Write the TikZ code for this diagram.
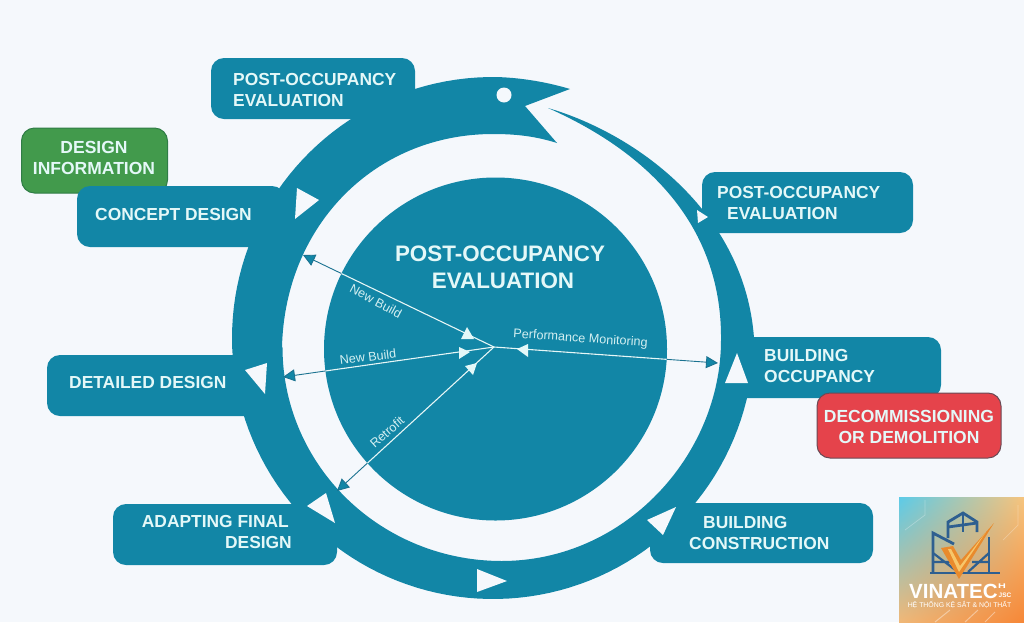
\documentclass[tikz,border=0pt]{standalone}
\usepackage{fontspec}
\usepackage{graphicx}
\setmainfont{Liberation Sans}
\usetikzlibrary{arrows.meta,shadings}
\definecolor{paper}{HTML}{F5F8FC}
\definecolor{ringteal}{HTML}{1286A6}
\definecolor{probeteal}{HTML}{1A7290}
\definecolor{mint}{HTML}{E4F8F8}
\definecolor{leaf}{HTML}{429A4C}
\definecolor{leafedge}{HTML}{2F7D46}
\definecolor{signal}{HTML}{E5434B}
\definecolor{signaledge}{HTML}{6A4A55}
\definecolor{steel}{HTML}{2E5F90}
\definecolor{amber}{HTML}{E98A2C}
\definecolor{honey}{HTML}{F7C66A}
\definecolor{badgeUL}{HTML}{5CCBE8}
\definecolor{badgeUR}{HTML}{F7C47D}
\definecolor{badgeLR}{HTML}{F68737}
\definecolor{badgeLL}{HTML}{F0B878}
\tikzset{
  stage/.style={rectangle,rounded corners=13pt,fill=ringteal,inner sep=0pt},
  stagelabel/.style={inner sep=0pt,text=mint,align=left,font=\bfseries\fontsize{17.4}{21}\selectfont},
  sidebox/.style={rectangle,rounded corners=13pt,inner sep=0pt,line width=1pt},
  sidelabel/.style={inner sep=0pt,text=mint,align=center,font=\bfseries\fontsize{17.5}{21}\selectfont},
  flowmark/.style={fill=paper},
  probe/.style={draw=probeteal,line width=.9pt,-{Triangle[length=12pt,width=12pt,fill=ringteal]}},
  probecore/.style={draw=mint,line width=1.1pt},
  hubmark/.style={fill=mint},
  probelabel/.style={inner sep=0pt,text=mint!92!ringteal,font=\fontsize{12.6}{15}\selectfont},
  logotext/.style={inner sep=0pt,text=white}
}
\begin{document}
\begin{tikzpicture}[x=1pt,y=-1pt]
\fill[paper] (0,0) rectangle (1024,622);
\useasboundingbox (0,0) rectangle (1024,622);

% Side note that sits behind the concept stage
\node[sidebox,fill=leaf,draw=leafedge,minimum width=146pt,minimum height=65pt] (info) at (94.5,160.5) {};
\node[sidelabel] (infoText) at (94,158) {DESIGN\\INFORMATION};

% Stage boxes
\node[stage,minimum width=204pt,minimum height=61pt] (stageA) at (313,88.5) {};
\node[stage,minimum width=208pt,minimum height=61pt] (stageB) at (181,216.5) {};
\node[stage,minimum width=215pt,minimum height=61pt] (stageC) at (154.5,385.5) {};
\node[stage,minimum width=224pt,minimum height=61pt] (stageD) at (225,534.5) {};
\node[stage,minimum width=223pt,minimum height=60pt] (stageE) at (761.5,533) {};
\node[stage,minimum width=211pt,minimum height=61pt] (stageF) at (835.5,367.5) {};
\node[stage,minimum width=211pt,minimum height=61pt] (stageG) at (807.5,202.5) {};

% The snake-shaped cycle: tail, outer edge, head, then inner edge back to the tail
\fill[ringteal] (548,108)
  .. controls (640,135) and (745,215) .. (754,338)
  -- plot[domain=0:271,samples=120] ({493+261*cos(\x)},{338+261*sin(\x)})
  .. controls (525,78) and (550,83) .. (570,89)
  -- (525,106) -- (557,143)
  .. controls (535,136) and (515,134) .. (493,134)
  .. controls (375,134) and (285,225) .. (282,347)
  -- plot[domain=180:90,samples=60] ({501.5+219*cos(\x)},{347.5+213.5*sin(\x)})
  .. controls (625,561) and (721,455) .. (721,340)
  .. controls (722,240) and (665,160) .. (548,108)
  -- cycle;
\fill[paper] (504,95) circle [radius=7.5pt];

% Direction marks along the cycle
\fill[flowmark] (297,188) -- (319,200) -- (295,219) -- cycle;
\fill[flowmark] (697,210) -- (708,217) -- (698,223) -- cycle;
\fill[flowmark] (737,353) -- (748,383) -- (725,383) -- cycle;
\fill[flowmark] (676,507) -- (647,520) -- (663,535) -- cycle;
\fill[flowmark] (477,569) -- (507,581) -- (477,592) -- cycle;
\fill[flowmark] (326,493) -- (307,506) -- (335,523) -- cycle;
\fill[flowmark] (267,363) -- (245,370) -- (265,394) -- cycle;

% Central disk
\node[circle,fill=ringteal,minimum size=343pt,inner sep=0pt] (disk) at (495.5,349) {};

% Monitoring lines from the hub out to the ring
\coordinate (hub) at (494,347);
\coordinate (toConcept) at (303,255);
\coordinate (toDetailed) at (283,377);
\coordinate (toAdapting) at (337,491);
\coordinate (toOccupancy) at (718,363);
\draw[probe] (hub) -- (toConcept);
\draw[probe] (hub) -- (toDetailed);
\draw[probe] (hub) -- (toAdapting);
\draw[probe] (hub) -- (toOccupancy);
\begin{scope}
  \clip (495.5,349) circle [radius=171.5pt];
  \draw[probecore] (hub) -- (toConcept);
  \draw[probecore] (hub) -- (toDetailed);
  \draw[probecore] (hub) -- (toAdapting);
  \draw[probecore] (hub) -- (toOccupancy);
\end{scope}
\fill[hubmark] (467,327) -- (474,339) -- (461,339) -- cycle;
\fill[hubmark] (470,352) -- (459,347) -- (459,359) -- cycle;
\fill[hubmark] (477,363) -- (465,366) -- (473,375) -- cycle;
\fill[hubmark] (517,349) -- (528,344) -- (528,357) -- cycle;

% Line captions
\node[probelabel,rotate=-28] (capA) at (376,301) {New Build};
\node[probelabel,rotate=7] (capB) at (368,357) {New Build};
\node[probelabel,rotate=42] (capC) at (387,432) {Retrofit};
\node[probelabel,rotate=-4] (capD) at (580.5,339) {Performance Monitoring};

% Title in the disk
\node[inner sep=0pt,text=mint,align=center,font=\bfseries\fontsize{22.4}{27}\selectfont] (title) at (500,267.5) {POST-OCCUPANCY\\\hspace*{6pt}EVALUATION};

% Stage captions
\node[stagelabel,anchor=west] (labA) at (233,90) {POST-OCCUPANCY\\EVALUATION};
\node[stagelabel,anchor=west] (labB) at (95,214.5) {CONCEPT DESIGN};
\node[stagelabel,anchor=west] (labC) at (69,382.5) {DETAILED DESIGN};
\node[stagelabel,anchor=east,align=right] (labD) at (292,532) {ADAPTING FINAL\hspace*{3pt}\\DESIGN};
\node[stagelabel,anchor=west] (labE) at (689,532.5) {\hspace*{14pt}BUILDING\\CONSTRUCTION};
\node[stagelabel,anchor=west] (labF) at (764,366) {BUILDING\\OCCUPANCY};
\node[stagelabel,anchor=west] (labG) at (717,203) {POST-OCCUPANCY\\\hspace*{10pt}EVALUATION};

% Side note in front of the occupancy stage
\node[sidebox,fill=signal,draw=signaledge,minimum width=184pt,minimum height=65pt] (demolish) at (909,425.5) {};
\node[sidelabel] (demolishText) at (909,426.5) {DECOMMISSIONING\\OR DEMOLITION};

% Company badge
\shade[upper left=badgeUL,upper right=badgeUR,lower right=badgeLR,lower left=badgeLL] (899,497) rectangle (1024,622);
\begin{scope}
  \clip (899,497) rectangle (1024,622);
  \draw[white,opacity=.28,line width=.7pt] (905,530) -- (925,515) -- (925,500);
  \draw[white,opacity=.28,line width=.7pt] (1003,540) -- (1018,525) -- (1018,505);
  \draw[white,opacity=.4,line width=1pt] (935,622) -- (950,610);
  \draw[white,opacity=.4,line width=1pt] (965,622) -- (978,610);
  \draw[white,opacity=.4,line width=1pt] (985,622) -- (995,612);
\end{scope}
\draw[steel,line width=2.8pt] (930,573) -- (1000,573);
\draw[steel,line width=2.8pt] (933,573) -- (933,533) -- (954,544);
\draw[steel,line width=2.8pt] (948,538) -- (948,522) -- (963,513) -- (977,522) -- (977,532);
\draw[steel,line width=2.8pt] (963,513) -- (963,532);
\draw[steel,line width=2.8pt] (948,527) -- (977,523);
\draw[steel,line width=2.8pt] (989,537) -- (989,573);
\draw[steel,line width=2.2pt] (933,553) -- (958,572) (933,562) -- (955,562);
\draw[steel,line width=2.2pt] (989,553) -- (968,572) (989,562) -- (972,562);
\fill[amber] (941,548) -- (953,546) -- (961,560) -- (994,523) -- (959,579) -- cycle;
\fill[honey] (948,549) -- (951,549) -- (960,566) -- (986,532) -- (959,572) -- cycle;
\node[logotext,anchor=west,font=\bfseries\fontsize{20.5}{22}\selectfont] (brand) at (909,591) {VINATEC};
\node[logotext,anchor=west,font=\bfseries\fontsize{8}{8}\selectfont] (brandH) at (998,586.5) {\scalebox{1.35}[.85]{H}};
\node[logotext,anchor=west,font=\bfseries\fontsize{6.5}{7}\selectfont] (brandJ) at (998.5,595) {JSC};
\node[logotext,font=\fontsize{6.9}{8}\selectfont] (slogan) at (959.5,605) {HỆ THỐNG KỆ SẮT \& NỘI THẤT};
\end{tikzpicture}
\end{document}
